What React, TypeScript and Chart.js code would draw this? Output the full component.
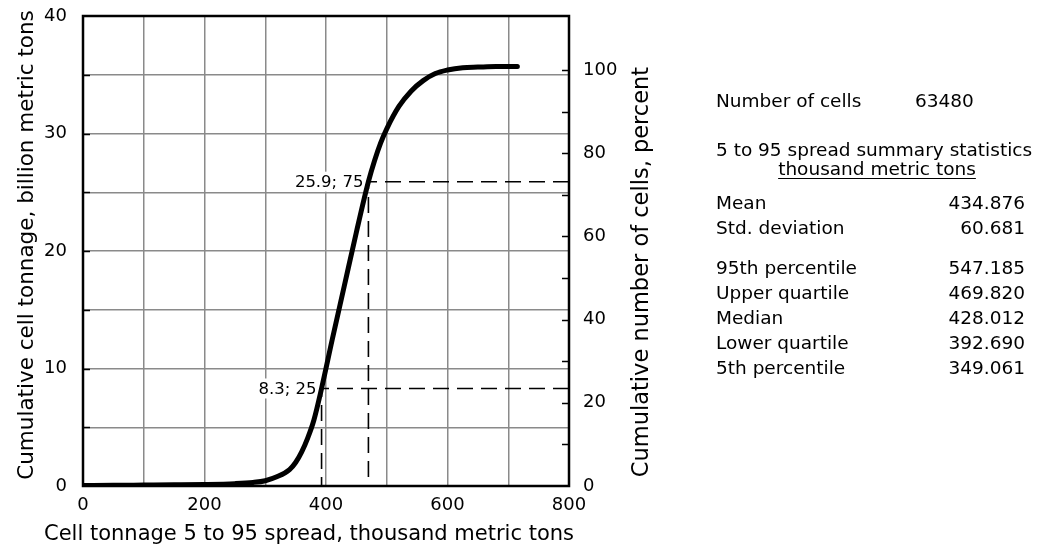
import React, { useEffect, useRef } from 'react';
import { Chart, registerables } from 'chart.js';

Chart.register(...registerables);

// Curve: cell tonnage (thousand metric tons) vs cumulative tonnage (billion metric tons)
const tonnageX = [0, 50, 100, 150, 200, 250, 280, 300, 320, 340, 350, 360, 370, 380, 392.69, 410, 430, 450, 469.82, 480, 490, 500, 520, 540, 560, 580, 600, 625, 650, 680, 715];
const cumTonnage = [0.05, 0.06, 0.08, 0.1, 0.13, 0.2, 0.3, 0.45, 0.8, 1.4, 2.0, 2.9, 4.1, 5.6, 8.3, 12.4, 17.0, 21.6, 25.9, 27.7, 29.2, 30.4, 32.3, 33.6, 34.5, 35.1, 35.4, 35.6, 35.65, 35.7, 35.7];

// Quartile markers
const quartileX = [392.69, 469.82];
const quartileY = [8.3, 25.9];
const quartileLabels = ['8.3; 25', '25.9; 75'];

// Axis ranges / ticks
const xMin = 0, xMax = 800, xStep = 100, xLabelStep = 200;
const yMin = 0, yMax = 40, yStep = 5, yLabelStep = 10;
const y2Min = 0, y2Max = 113, y2Step = 10, y2LabelStep = 20, y2LabelMax = 100;

// Summary block
const cellCountLabel = 'Number of cells';
const cellCount = '63480';
const statsTitle = '5 to 95 spread summary statistics';
const statsUnit = 'thousand metric tons';
const statLabels = ['Mean', 'Std. deviation', '95th percentile', 'Upper quartile', 'Median', 'Lower quartile', '5th percentile'];
const statValues = ['434.876', '60.681', '547.185', '469.820', '428.012', '392.690', '349.061'];
const statRowY = [203, 228, 268, 293, 318, 343, 368];

const xTitle = 'Cell tonnage 5 to 95 spread, thousand metric tons';
const yTitle = 'Cumulative cell tonnage, billion metric tons';
const y2Title = 'Cumulative number of cells, percent';

const FONT = '"DejaVu Sans", Verdana, sans-serif';

const overlay = {
  id: 'overlay',
  beforeDatasetsDraw(chart: any) {
    const { ctx, scales } = chart;
    ctx.save();
    ctx.font = `16.5px ${FONT}`;
    ctx.textAlign = 'right';
    ctx.textBaseline = 'middle';
    quartileX.forEach((qx, i) => {
      const px = scales.x.getPixelForValue(qx) - 5;
      const py = scales.y.getPixelForValue(quartileY[i]);
      const w = ctx.measureText(quartileLabels[i]).width;
      ctx.fillStyle = '#fff';
      ctx.fillRect(px - w - 2, py - 10, w + 4, 20);
      ctx.fillStyle = '#000';
      ctx.fillText(quartileLabels[i], px, py + 1);
    });
    ctx.restore();
  },
  afterDraw(chart: any) {
    const { ctx, chartArea: a, scales } = chart;
    ctx.save();
    ctx.strokeStyle = '#000';
    ctx.lineWidth = 1.5;
    ctx.beginPath();
    for (let v = yMin + yStep; v < yMax; v += yStep) {
      const py = Math.round(scales.y.getPixelForValue(v)) + 0.5;
      ctx.moveTo(a.left, py);
      ctx.lineTo(a.left + 7, py);
    }
    for (let v = y2Min + y2Step; v <= y2LabelMax; v += y2Step) {
      const py = Math.round(scales.y2.getPixelForValue(v)) + 0.5;
      ctx.moveTo(a.right, py);
      ctx.lineTo(a.right - 7, py);
    }
    ctx.stroke();
    ctx.lineWidth = 2.5;
    ctx.strokeRect(a.left, a.top, a.right - a.left, a.bottom - a.top);

    ctx.fillStyle = '#000';
    ctx.textAlign = 'center';
    ctx.textBaseline = 'middle';
    ctx.font = `21px ${FONT}`;
    ctx.fillText(xTitle, a.left + 226, a.bottom + 49);
    ctx.save();
    ctx.font = `21.5px ${FONT}`;
    ctx.translate(a.left - 56, a.top + 229);
    ctx.rotate(-Math.PI / 2);
    ctx.fillText(yTitle, 0, 0);
    ctx.restore();
    ctx.save();
    ctx.font = `22.5px ${FONT}`;
    ctx.translate(a.right + 73, a.top + 256);
    ctx.rotate(-Math.PI / 2);
    ctx.fillText(y2Title, 0, 0);
    ctx.restore();
    ctx.restore();
  },
};

export default function App() {
  const ref = useRef<HTMLCanvasElement | null>(null);

  useEffect(() => {
    if (!ref.current) return;
    const curve = tonnageX.map((x, i) => ({ x, y: cumTonnage[i] }));
    const dashSets = quartileX.map((qx, i) => ({
      data: [
        { x: xMax, y: quartileY[i] },
        { x: qx, y: quartileY[i] },
        { x: qx, y: yMin },
      ],
      borderColor: '#000',
      borderWidth: 1.6,
      borderDash: [16, 8],
      pointRadius: 0,
      tension: 0,
      fill: false,
    }));
    const tickFont = { family: FONT, size: 18 };
    const chart = new Chart(ref.current, {
      type: 'line',
      data: {
        datasets: [
          {
            data: curve,
            borderColor: '#000',
            borderWidth: 5,
            pointRadius: 0,
            cubicInterpolationMode: 'monotone',
            fill: false,
            borderCapStyle: 'round',
          } as any,
          ...dashSets,
        ],
      },
      options: {
        animation: false,
        responsive: false,
        events: [],
        layout: { padding: { top: 16, left: 0, right: 0, bottom: 0 } },
        plugins: { legend: { display: false }, tooltip: { enabled: false } },
        scales: {
          x: {
            type: 'linear',
            min: xMin,
            max: xMax,
            afterFit: (s: any) => { s.height = 63; s.paddingLeft = 0; s.paddingRight = 0; },
            grid: { color: '#8a8a8a', lineWidth: 1.5, drawTicks: false },
            border: { display: false },
            ticks: {
              stepSize: xStep,
              autoSkip: false,
              maxRotation: 0,
              padding: 9,
              color: '#000',
              font: tickFont,
              callback: (v: any) => (v % xLabelStep === 0 ? String(v) : ''),
            },
          },
          y: {
            type: 'linear',
            position: 'left',
            min: yMin,
            max: yMax,
            afterFit: (s: any) => { s.width = 83; s.paddingTop = 0; s.paddingBottom = 0; },
            grid: { color: '#8a8a8a', lineWidth: 1.5, drawTicks: false },
            border: { display: false },
            ticks: {
              stepSize: yStep,
              autoSkip: false,
              padding: 16,
              color: '#000',
              font: tickFont,
              callback: (v: any) => (v % yLabelStep === 0 ? String(v) : ''),
            },
          },
          y2: {
            type: 'linear',
            position: 'right',
            min: y2Min,
            max: y2Max,
            afterFit: (s: any) => { s.width = 1039 - 569; s.paddingTop = 0; s.paddingBottom = 0; },
            grid: { display: false, drawTicks: false },
            border: { display: false },
            ticks: {
              stepSize: y2Step,
              autoSkip: false,
              padding: 14,
              color: '#000',
              font: tickFont,
              callback: (v: any) => (v % y2LabelStep === 0 && v <= y2LabelMax ? String(v) : ''),
            },
          },
        },
      } as any,
      plugins: [overlay],
    });
    return () => chart.destroy();
  }, []);

  const textStyle: React.CSSProperties = {
    position: 'absolute',
    fontFamily: FONT,
    fontSize: 18.5,
    lineHeight: '22px',
    color: '#000',
    whiteSpace: 'nowrap',
  };

  return (
    <div style={{ position: 'absolute', left: 0, top: 0, width: 1039, height: 549, background: '#fff' }}>
      <canvas ref={ref} width={1039} height={549} style={{ display: 'block', width: 1039, height: 549 }} />
      <div style={{ ...textStyle, left: 716, top: 90 }}>{cellCountLabel}</div>
      <div style={{ ...textStyle, left: 915, top: 90 }}>{cellCount}</div>
      <div style={{ ...textStyle, left: 716, top: 139 }}>{statsTitle}</div>
      <div style={{ ...textStyle, left: 716, width: 322, top: 158, textAlign: 'center' }}>
        <span style={{ textDecoration: 'underline', textUnderlineOffset: 3 }}>{statsUnit}</span>
      </div>
      {statLabels.map((lab, i) => (
        <React.Fragment key={lab}>
          <div style={{ ...textStyle, left: 716, top: statRowY[i] - 11 }}>{lab}</div>
          <div style={{ ...textStyle, right: 1039 - 1025, top: statRowY[i] - 11, textAlign: 'right' }}>{statValues[i]}</div>
        </React.Fragment>
      ))}
    </div>
  );
}
